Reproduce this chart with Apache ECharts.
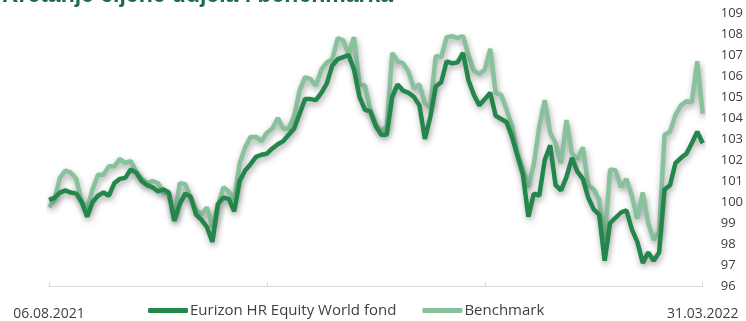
<!DOCTYPE html>
<html>
<head>
<meta charset="utf-8">
<script src="https://cdn.jsdelivr.net/npm/echarts@6/dist/echarts.min.js"></script>
<style>
  html, body { margin: 0; padding: 0; background: #fff; }
  #chart { width: 746px; height: 321px; }
</style>
</head>
<body>
<div id="chart"></div>
<script>
// kretanje cijene udjela i benchmarka
const dateLabels = ['06.08.2021', '31.03.2022']
const fundName = 'Eurizon HR Equity World fond'
const benchName = 'Benchmark'

const fund = [
  100.1, 100.2, 100.45, 100.55, 100.45, 100.4, 100.0, 99.3, 100.0, 100.3,
  100.45, 100.3, 100.9, 101.1, 101.15, 101.55, 101.4, 101.0, 100.8, 100.7,
  100.5, 100.6, 100.45, 99.1, 99.9, 100.4, 100.25, 99.4, 99.15, 98.8,
  98.1, 99.9, 100.2, 100.15, 99.55, 101.0, 101.5, 101.8, 102.15, 102.25,
  102.3, 102.55, 102.75, 102.9, 103.2, 103.5, 104.2, 104.9, 104.9, 104.85,
  105.2, 105.65, 106.5, 106.8, 106.9, 107.0, 106.3, 105.0, 104.4, 104.3,
  103.6, 103.2, 103.2, 105.0, 105.6, 105.3, 105.2, 105.0, 104.6, 103.0,
  104.05, 105.5, 105.7, 106.7, 106.6, 106.65, 107.1, 105.8, 105.1, 104.6,
  104.9, 105.2, 104.1, 103.95, 103.8, 103.1, 102.2, 101.3, 99.3, 100.4,
  100.3, 102.0, 102.7, 100.8, 100.55, 101.2, 102.1, 101.45, 101.1, 100.2,
  99.65, 99.4, 97.2, 99.0, 99.25, 99.5, 99.6, 98.7, 98.1, 97.1,
  97.6, 97.2, 97.6, 100.6, 100.8, 101.85, 102.1, 102.3, 102.8, 103.35,
  102.8
]

const benchmark = [
  99.75, 100.1, 101.15, 101.5, 101.4, 101.1, 100.0, 99.7, 100.6, 101.3,
  101.3, 101.7, 101.7, 102.05, 101.85, 101.95, 101.45, 101.1, 100.9, 101.0,
  100.9, 100.45, 100.4, 99.2, 100.9, 100.85, 100.2, 99.6, 99.4, 99.75,
  98.8, 99.8, 100.7, 100.5, 100.1, 101.85, 102.6, 103.1, 103.1, 102.9,
  103.3, 103.5, 104.0, 103.5, 103.5, 104.1, 105.3, 105.95, 105.85, 105.55,
  106.3, 106.65, 106.8, 107.8, 107.7, 107.05, 107.85, 105.6, 105.55, 104.4,
  103.7, 103.35, 103.6, 107.1, 106.7, 106.6, 106.2, 105.4, 105.6, 104.7,
  104.5, 106.95, 106.9, 107.85, 107.9, 107.8, 107.9, 107.0, 106.25, 106.1,
  106.3, 107.3, 105.2, 105.1, 104.4, 103.6, 102.3, 101.55, 100.7, 101.8,
  103.6, 104.85, 103.3, 102.8, 101.85, 103.9, 102.3, 102.05, 102.6, 100.8,
  100.6, 100.1, 98.2, 101.55, 101.5, 100.7, 101.1, 100.3, 99.2, 100.45,
  99.0, 98.2, 98.6, 103.2, 103.35, 104.15, 104.6, 104.8, 104.75, 106.7,
  104.2
]

const categories = fund.map((v, i) => i)
const last = categories.length - 1
const tickStep = last / 3

const myChart = echarts.init(document.getElementById('chart'))
const textColor = '#404040'

const lineShadow = {
  shadowColor: 'rgba(0, 0, 0, 0.35)',
  shadowBlur: 6,
  shadowOffsetX: 1,
  shadowOffsetY: 3
}

const option = {
  animation: false,
  title: {
    text: 'Kretanje cijene udjela i benchmarka',
    right: 353,
    top: -16,
    padding: 0,
    textStyle: {
      fontFamily: 'Liberation Sans',
      fontWeight: 'bold',
      fontSize: 23,
      color: '#1d6b47'
    }
  },
  legend: {
    data: [fundName, benchName],
    left: 148,
    top: 303,
    padding: 0,
    icon: 'roundRect',
    itemWidth: 40,
    itemHeight: 5,
    itemGap: 26,
    textStyle: {
      fontFamily: 'Open Sans',
      fontSize: 15,
      color: textColor,
      padding: [0, 0, 0, -3]
    }
  },
  grid: {
    left: 49,
    right: 41,
    top: 13,
    bottom: 28
  },
  xAxis: {
    type: 'category',
    boundaryGap: false,
    data: categories,
    axisLine: {
      lineStyle: { color: '#d9d9d9', width: 1 }
    },
    axisTick: {
      inside: true,
      length: 4,
      interval: function (index) {
        return index % tickStep === 0
      },
      lineStyle: { color: '#d9d9d9' }
    },
    axisLabel: {
      margin: 21,
      interval: function (index) {
        return index === 0 || index === last
      },
      formatter: function (value, index) {
        return index === 0 ? dateLabels[0] : dateLabels[1]
      },
      fontFamily: 'Open Sans',
      fontSize: 14,
      color: textColor
    }
  },
  yAxis: {
    type: 'value',
    position: 'right',
    min: 96,
    max: 109,
    interval: 1,
    axisLine: { show: false },
    axisTick: { show: false },
    splitLine: { show: false },
    axisLabel: {
      margin: 18,
      fontFamily: 'Open Sans',
      fontSize: 13,
      color: textColor
    }
  },
  series: [
    {
      name: fundName,
      type: 'line',
      data: fund,
      z: 3,
      showSymbol: false,
      itemStyle: { color: '#23874c' },
      lineStyle: Object.assign({ width: 4.5, color: '#23874c' }, lineShadow)
    },
    {
      name: benchName,
      type: 'line',
      data: benchmark,
      z: 2,
      showSymbol: false,
      itemStyle: { color: '#88c29c' },
      lineStyle: Object.assign({ width: 4.5, color: '#88c29c' }, lineShadow)
    }
  ]
}

option && myChart.setOption(option)
</script>
</body>
</html>
